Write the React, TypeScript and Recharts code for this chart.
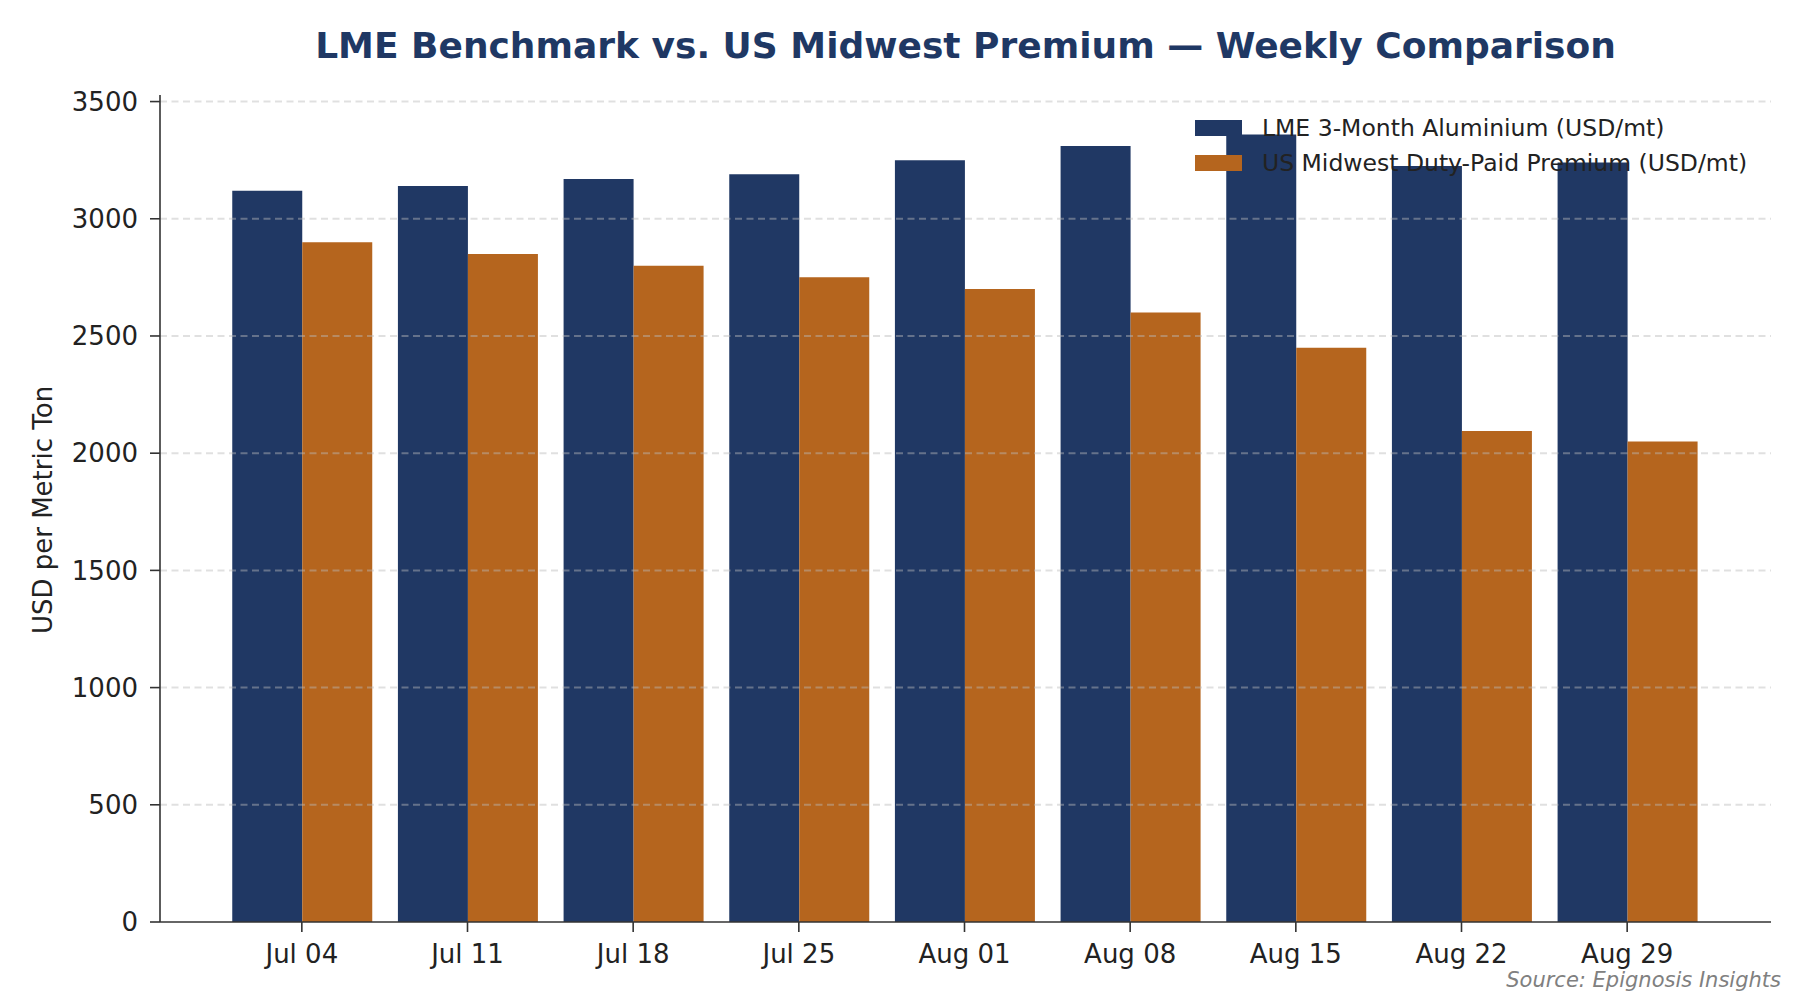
import React from "react";
import { BarChart, Bar, XAxis, YAxis, ReferenceLine } from "recharts";

const weeks = ["Jul 04", "Jul 11", "Jul 18", "Jul 25", "Aug 01", "Aug 08", "Aug 15", "Aug 22", "Aug 29"];
const lmeValues = [3120, 3140, 3170, 3190, 3250, 3310, 3360, 3225, 3240];
const premiumValues = [2900, 2850, 2800, 2750, 2700, 2600, 2450, 2095, 2050];
const yTicks = [0, 500, 1000, 1500, 2000, 2500, 3000, 3500];

const NAVY = "#203864";
const ORANGE = "#B5651E";
const FONT = "'DejaVu Sans', Verdana, sans-serif";

const seriesList = [
  { key: "lme", name: "LME 3-Month Aluminium (USD/mt)", color: NAVY },
  { key: "premium", name: "US Midwest Duty-Paid Premium (USD/mt)", color: ORANGE },
];

const data = weeks.map((w, i) => ({ week: w, lme: lmeValues[i], premium: premiumValues[i] }));

const YLabel = () => (
  <text
    x={52}
    y={510}
    transform="rotate(-90 52 510)"
    textAnchor="middle"
    fontFamily={FONT}
    fontSize={26}
    fill="#222"
  >
    USD per Metric Ton
  </text>
);

export default function App() {
  const tickStyle = { fontFamily: FONT, fontSize: 26, fill: "#222" };
  return (
    <div style={{ position: "absolute", left: 0, top: 0, width: 1800, height: 1000, background: "#fff" }}>
      <BarChart
        width={1800}
        height={1000}
        data={data}
        margin={{ top: 95, right: 29, bottom: 0, left: 0 }}
        barCategoryGap="8%"
        barGap={0}
      >
        <XAxis
          dataKey="week"
          height={78}
          padding={{ left: 59, right: 61 }}
          tick={tickStyle}
          tickSize={10}
          tickMargin={13}
          axisLine={{ stroke: "#333", strokeWidth: 1.6 }}
          tickLine={{ stroke: "#333", strokeWidth: 1.6 }}
          interval={0}
        />
        <YAxis
          width={160}
          domain={[0, 3528]}
          ticks={yTicks}
          tick={tickStyle}
          tickSize={10}
          tickMargin={12}
          axisLine={{ stroke: "#333", strokeWidth: 1.6 }}
          tickLine={{ stroke: "#333", strokeWidth: 1.6 }}
          label={<YLabel />}
        />
        {seriesList.map((s) => (
          <Bar key={s.key} dataKey={s.key} name={s.name} fill={s.color} isAnimationActive={false} />
        ))}
        {yTicks.slice(1).map((t) => (
          <ReferenceLine
            key={t}
            y={t}
            stroke="#bbbbbb"
            strokeOpacity={0.45}
            strokeWidth={2}
            strokeDasharray="7 4.5"
          />
        ))}
      </BarChart>
      <div
        style={{
          position: "absolute",
          left: 160,
          width: 1611,
          top: 27.5,
          textAlign: "center",
          fontFamily: FONT,
          fontWeight: "bold",
          fontSize: 36,
          lineHeight: "36px",
          color: "#1f3864",
          whiteSpace: "nowrap",
        }}
      >
        LME Benchmark vs. US Midwest Premium — Weekly Comparison
      </div>
      <div
        style={{
          position: "absolute",
          left: 1195,
          top: 110,
          fontFamily: FONT,
          fontSize: 23.5,
          color: "#222",
        }}
      >
        {seriesList.map((s) => (
          <div key={s.key} style={{ display: "flex", alignItems: "center", height: 35 }}>
            <div style={{ width: 47, height: 16, background: s.color, marginRight: 20 }} />
            <span style={{ whiteSpace: "nowrap" }}>{s.name}</span>
          </div>
        ))}
      </div>
      <div
        style={{
          position: "absolute",
          left: 0,
          width: 1781,
          top: 970,
          textAlign: "right",
          fontFamily: FONT,
          fontStyle: "italic",
          fontSize: 21,
          lineHeight: "21px",
          color: "#808080",
          whiteSpace: "nowrap",
        }}
      >
        Source: Epignosis Insights
      </div>
    </div>
  );
}
